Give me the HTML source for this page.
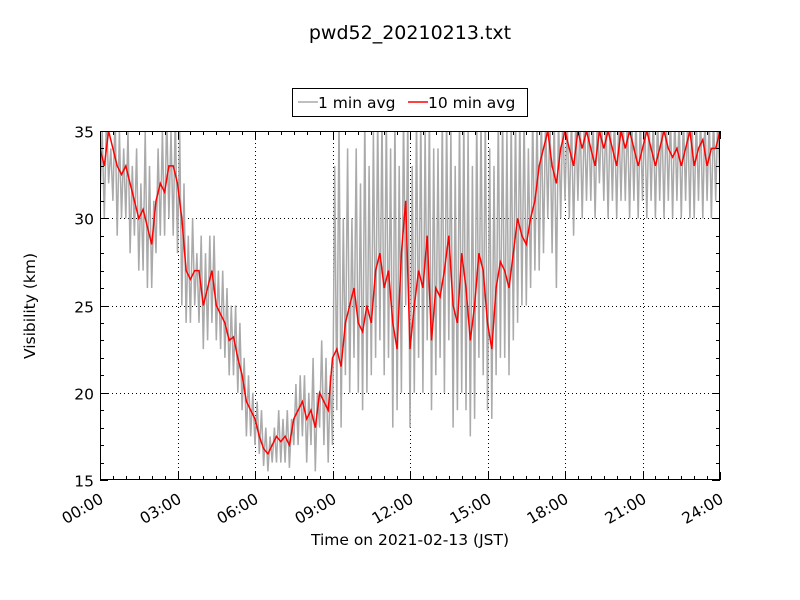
<!DOCTYPE html>
<html><head><meta charset="utf-8"><style>
body{margin:0;background:#fff;}
svg{display:block;font-family:"DejaVu Sans","Liberation Sans",sans-serif;}
</style></head><body>
<svg id="chart" width="800" height="600">
<text x="410" y="39" text-anchor="middle" font-size="19">pwd52_20210213.txt</text>
<g>
<rect x="292.5" y="88.5" width="235" height="28" fill="#fff" stroke="#000"/>
<line x1="298" y1="102" x2="318" y2="102" stroke="#aaa" stroke-width="1.5"/>
<text x="318" y="108" font-size="15.5">1 min avg</text>
<line x1="408" y1="102" x2="428" y2="102" stroke="red" stroke-width="1.5"/>
<text x="428" y="108" font-size="15.5">10 min avg</text>
</g>
<defs><clipPath id="clip"><rect x="100" y="131" width="620" height="349"/></clipPath></defs>
<g id="grid"></g>
<g id="series" clip-path="url(#clip)"></g>
<rect x="100.5" y="131.5" width="619" height="348" fill="none" stroke="#000"/>
<g id="axes"></g>
<text x="410" y="545" text-anchor="middle" font-size="15.5">Time on 2021-02-13 (JST)</text>
<text transform="translate(35,306) rotate(-90)" text-anchor="middle" font-size="15.5">Visibility (km)</text>
</svg>
<script>
const xTickLabels=["00:00","03:00","06:00","09:00","12:00","15:00","18:00","21:00","24:00"];
const yTickLabels=[15,20,25,30,35];
const tenMinAvg=[34,33,35,34,33,32.5, 33,32,31,30,30.5,29.5, 28.5,31,32,31.5,33,33, 32,30,27,26.5,27,27, 25,26,27,25,24.5,24, 23,23.2,22,21,19.5,19, 18.5,17.5,16.8,16.5,17,17.5, 17.2,17.5,17,18.5,19,19.5, 18.5,19,18,20,19.5,19, 22,22.5,21.5,24,25,26, 24,23.5,25,24,27,28, 26,27,24,22.5,28,31, 22.5,25,27,26,29,23, 26,25.5,27,29,25,24, 28,26,23,25,28,27, 24,22.5,26,27.5,27,26, 28,30,29,28.5,30,31, 33,34,35,33,32,34, 35,34,33,35,34,35, 34,33,35,34,35,34, 33,35,34,35,34,33, 34,35,34,33,34,35, 34,33.5,34,33,34,35, 33,34,34.5,33,34,34,35];
const oneMinHigh=[35,36,34,36,35,34, 35,33,34,32,35,33, 31,34,35,36,35,36, 35,32,29,30,28,29, 28,29,29,27,27,26, 25,25,24,22,21,20, 19.5,19,18,17.5,18,19, 18.5,19,18.5,20.5,21,21, 20,22,20,23,22,21, 33,36,30,34,30,34, 32,36,33,35,36,36, 36,34,36,33,36,36, 33,36,36,35,36,34, 34,36,36,35,33,36, 36,35,33,36,36,36, 34,33,36,36,35,36, 36,36,36,34,36,36, 36,36,36,36,36,36, 36,36,36,36,36,36, 36,36,36,36,36,36, 36,36,36,36,36,36, 36,36,36,36,36,36, 36,36,36,36,36,36, 36,36,36,36,36,36,36];
const oneMinLow=[31,30,32,31,29,30, 30,28,29,27,27,26, 26,28,29,29,30,29, 28,25,24,24,25,24, 22.5,23,24,23,22.5,22, 21,21,20,19,17.5,17.5, 17,16.5,15.8,15.5,16,16, 16,16,15.7,17,17,17.5, 16,17,15.5,18,17,16, 17,19,18,21,20,22, 20,19,20,21,22,23, 21,22,18,19,20,25, 18,20,22,20,23,19, 21,22,20,23,18,19, 20,19,17.5,18.5,22,21, 19,18.5,21,22,22,21, 23,24,25,25,26,27, 27,28,30,28,26,30, 31,30,29,31,30,31, 31,30,32,31,30,31, 30,31,31,30,31,30, 31,30,31,30,31,30, 31,30,31,30,31,30, 30,31,30,31,30,31,32];
const X0=100,X1=720,Y0=480,Y1=131;
const xs=h=>X0+(h/24)*(X1-X0);
const ys=v=>Y0-(v-15)/20*(Y0-Y1);
const NS="http://www.w3.org/2000/svg";
function mk(tag,attrs,parent){const e=document.createElementNS(NS,tag);for(const k in attrs)e.setAttribute(k,attrs[k]);parent.appendChild(e);return e;}
const grid=document.getElementById('grid'),axes=document.getElementById('axes'),series=document.getElementById('series');
// grid + ticks
xTickLabels.forEach((lab,i)=>{const x=Math.round(xs(i*3))+0.5;
 if(i>0&&i<8){const g=mk('line',{x1:x,y1:Y1,x2:x,y2:Y0,stroke:'#000','stroke-dasharray':'1,3','stroke-width':1},grid);
 
 }
 const t=mk('text',{x:x+4,y:Y0+22,'text-anchor':'end','font-size':15.5,transform:`rotate(-30 ${x+4} ${Y0+22})`},axes);
 t.textContent=lab;
 
 });
for(let m=0;m<=48;m++){const x=Math.round(xs(m/2))+0.5;const len=m%6===0?8:4;
 mk('line',{x1:x,y1:Y0,x2:x,y2:Y0-len,stroke:'#000'},axes);
 mk('line',{x1:x,y1:Y1,x2:x,y2:Y1+len,stroke:'#000'},axes);}
yTickLabels.forEach(v=>{const y=Math.round(ys(v))+0.5;
 if(v>15&&v<35){const g=mk('line',{x1:X0,y1:y,x2:X1,y2:y,stroke:'#000','stroke-dasharray':'1,3'},grid);
 
 }
 const t=mk('text',{x:X0-6,y:y+6,'text-anchor':'end','font-size':15.5},axes);
 t.textContent=v;
 
 });
for(let v=15;v<=35;v++){const y=Math.round(ys(v))+0.5;const len=v%5===0?8:4;
 mk('line',{x1:X0,y1:y,x2:X0+len,y2:y,stroke:'#000'},axes);
 mk('line',{x1:X1,y1:y,x2:X1-len,y2:y,stroke:'#000'},axes);}
// grey 1-min series
let d='';
oneMinLow.forEach((lo,i)=>{const h=i/6;d+=(i?'L':'M')+xs(h).toFixed(1)+','+ys(lo).toFixed(1);
 if(i<oneMinHigh.length) d+='L'+xs(h+1/12).toFixed(1)+','+ys(oneMinHigh[i]).toFixed(1);});
const g1=mk('path',{d:d,fill:'none',stroke:'#aaa','stroke-width':1.5},series);


let d2='';
tenMinAvg.forEach((v,i)=>{d2+=(i?'L':'M')+xs(i/6).toFixed(1)+','+ys(v).toFixed(1);});
const g2=mk('path',{d:d2,fill:'none',stroke:'red','stroke-width':1.5},series);


</script>
</body></html>
